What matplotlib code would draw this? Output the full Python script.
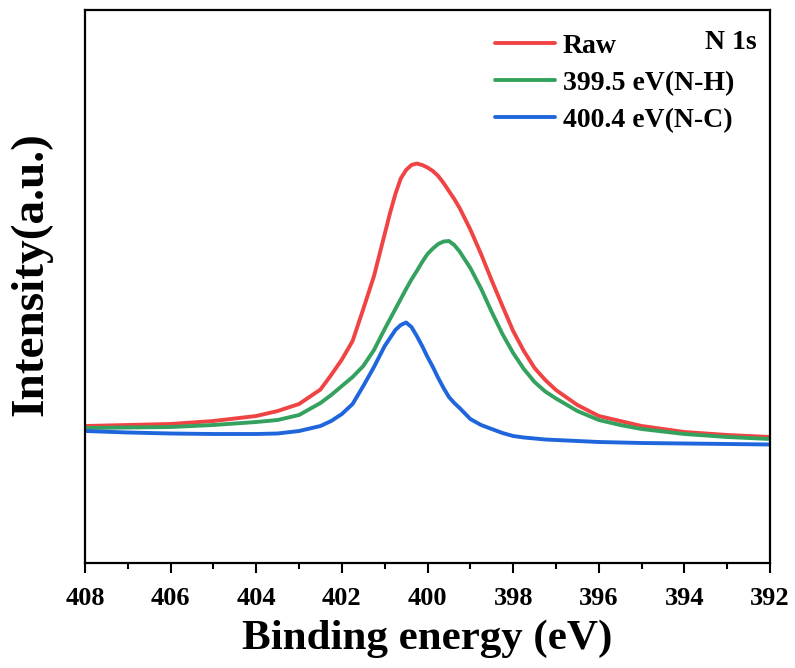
import matplotlib.pyplot as plt
import numpy as np

# N 1s XPS spectrum: raw envelope and two fitted components (arbitrary units)
energy = [408, 407, 406, 405, 404, 403.5, 403, 402.5, 402.25, 402, 401.75, 401.5,
          401.25, 401, 400.875, 400.75, 400.625, 400.5, 400.375, 400.25, 400.125,
          400, 399.875, 399.75, 399.625, 399.5, 399.375, 399.25, 399, 398.75,
          398.5, 398.25, 398, 397.75, 397.5, 397.25, 397, 396.5, 396, 395.5,
          395, 394, 393, 392]

raw = [137, 138, 139, 142, 147, 152, 159, 173.5, 188, 203.5, 222, 254,
       287, 329, 350, 369, 384.5, 393, 398, 399.5, 398,
       395.5, 392, 387, 380, 372, 364, 355, 333.5, 309,
       282.5, 257, 232, 212, 195, 183, 173, 158, 147, 142,
       137, 131, 128, 126]

nh = [135, 135.5, 136, 138, 141, 143, 148, 160, 168, 177, 186, 197,
      213, 234, 244, 254, 264, 274, 283.5, 292, 301,
      309, 314.5, 319, 321.5, 322, 318, 311.5, 295, 274.5,
      251, 229, 210, 194, 181, 171.5, 164.5, 152, 143, 138,
      134, 129, 126, 124]

nc = [132, 130.5, 129.5, 129, 129, 129.5, 132, 137, 142, 149, 159, 177,
      196, 217, 225, 233, 238, 240.5, 236, 227, 217,
      206, 196, 185, 175, 166, 160, 155, 144, 138,
      134, 130, 127, 125.5, 124.5, 123.5, 123, 122, 121, 120.5,
      120, 119.5, 119, 118.5]

labels = ['Raw', '399.5 eV(N-H)', '400.4 eV(N-C)']
colors = ['#f04444', '#34a25e', '#1f66dd']

plt.rcParams['font.family'] = 'Liberation Serif'
plt.rcParams['font.weight'] = 'bold'

fig = plt.figure(figsize=(7.95, 6.68), dpi=100)
ax = fig.add_axes([0.1069, 0.1572, 0.8617, 0.8278])

for ys, lab, c in zip([raw, nh, nc], labels, colors):
    ax.plot(energy, ys, color=c, lw=2.8, label=lab,
            solid_joinstyle='round', solid_capstyle='round')

ax.set_xlim(408, 392)
ax.set_ylim(0, 553)
ax.set_xticks(np.arange(408, 391, -2))
ax.set_xticks(np.arange(407, 392, -2), minor=True)
ax.set_yticks([])
ax.tick_params(axis='x', which='major', direction='out', length=7, width=1.5,
               labelsize=19, pad=10)
ax.tick_params(axis='x', which='minor', direction='out', length=4, width=1.5)
for s in ax.spines.values():
    s.set_linewidth(1.6)

ax.set_xlabel('Binding energy (eV)', fontsize=31, fontweight='bold', labelpad=7)
ax.set_ylabel('Intensity(a.u.)', fontsize=34, fontweight='bold')
ax.yaxis.set_label_coords(-0.047, 0.523)

leg = ax.legend(loc='upper left', bbox_to_anchor=(0.599, 0.958), frameon=False,
                fontsize=20, handlelength=2.15, handletextpad=0.27,
                labelspacing=0.42, borderpad=0, borderaxespad=0)
ax.text(0.98, 0.963, 'N 1s', transform=ax.transAxes, ha='right', va='top',
        fontsize=20, fontweight='bold')

fig.savefig('out.png', dpi=100)
